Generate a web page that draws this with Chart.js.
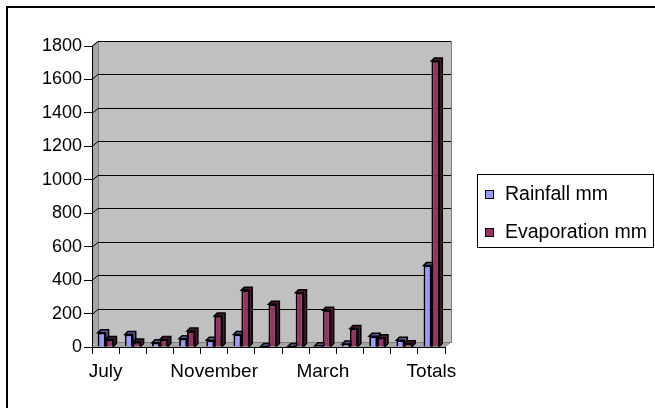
<!DOCTYPE html>
<html>
<head>
<meta charset="utf-8">
<script src="https://cdn.jsdelivr.net/npm/chart.js@4/dist/chart.umd.min.js"></script>
<style>
  html, body { margin: 0; padding: 0; background: #fff; }
  #wrap { width: 655px; height: 408px; position: relative; }
</style>
</head>
<body>
<div id="wrap"><canvas id="chart" width="655" height="408"></canvas></div>
<script>
// ---- datos ----
const months = ["July", "August", "September", "October", "November", "December",
  "January", "February", "March", "April", "May", "June", "Totals"];
const rainfall = [85, 75, 25, 50, 40, 75, 3, 3, 8, 18, 65, 40, 487];
const evaporation = [45, 30, 45, 95, 185, 340, 255, 325, 220, 110, 55, 20, 1710];
const seriesNames = ["Rainfall mm", "Evaporation mm"];
const yTicks = [0, 200, 400, 600, 800, 1000, 1200, 1400, 1600, 1800];

const COLORS = {
  rain: "#9999ff", rainDark: "#5c5c99",
  evap: "#993366", evapDark: "#4d1a33",
};
const DX = 6, DY = 5;     // profundidad de las paredes
const BDX = 3, BDY = 3;   // profundidad de las barras

// ----- paredes, rejilla y marco -----
const wallsPlugin = {
  id: "walls",
  beforeDraw(chart) {
    const { ctx, chartArea: a, scales } = chart;
    const y = scales.y;
    ctx.save();
    // marco exterior
    ctx.strokeStyle = "#000";
    ctx.lineWidth = 2;
    ctx.strokeRect(7, 7, 700, 500);
    // pared lateral
    ctx.fillStyle = "#a6a6a6";
    ctx.beginPath();
    ctx.moveTo(a.left, a.bottom);
    ctx.lineTo(a.left, a.top);
    ctx.lineTo(a.left + DX, a.top - DY);
    ctx.lineTo(a.left + DX, a.bottom - DY);
    ctx.closePath();
    ctx.fill();
    // suelo
    ctx.beginPath();
    ctx.moveTo(a.left, a.bottom);
    ctx.lineTo(a.right, a.bottom);
    ctx.lineTo(a.right + DX, a.bottom - DY);
    ctx.lineTo(a.left + DX, a.bottom - DY);
    ctx.closePath();
    ctx.fill();
    // pared del fondo
    ctx.fillStyle = "#c0c0c0";
    ctx.fillRect(a.left + DX, a.top - DY, a.right - a.left, a.bottom - a.top);
    ctx.strokeStyle = "#808080";
    ctx.lineWidth = 1;
    ctx.strokeRect(a.left + DX + 0.5, a.top - DY + 0.5, a.right - a.left, a.bottom - a.top);
    ctx.beginPath();
    ctx.moveTo(a.left, a.top);
    ctx.lineTo(a.left + DX, a.top - DY);
    ctx.moveTo(a.right, a.bottom);
    ctx.lineTo(a.right + DX, a.bottom - DY);
    ctx.stroke();
    // rejilla
    ctx.strokeStyle = "#000";
    yTicks.forEach((v) => {
      if (v === 0) return;
      const py = Math.round(y.getPixelForValue(v)) + 0.5;
      ctx.beginPath();
      ctx.moveTo(a.left, py);
      ctx.lineTo(a.left + DX, py - DY);
      ctx.lineTo(a.right + DX, py - DY);
      ctx.stroke();
    });
    ctx.restore();
  },
  beforeDatasetsDraw(chart) {
    const ctx = chart.ctx;
    ctx.save();
    ctx.lineWidth = 1.5;
    ctx.strokeStyle = "#000";
    chart.data.datasets.forEach((ds, di) => {
      const meta = chart.getDatasetMeta(di);
      meta.data.forEach((bar) => {
        const { x, y, base, width } = bar.getProps(["x", "y", "base", "width"], true);
        const l = x - width / 2, r = x + width / 2;
        ctx.fillStyle = ds.sideColor;
        ctx.beginPath();
        ctx.moveTo(l, y);
        ctx.lineTo(l + BDX, y - BDY);
        ctx.lineTo(r + BDX, y - BDY);
        ctx.lineTo(r + BDX, base - BDY);
        ctx.lineTo(r, base);
        ctx.lineTo(r, y);
        ctx.closePath();
        ctx.fill();
        ctx.stroke();
      });
    });
    ctx.restore();
  },
  afterDraw(chart) {
    // leyenda
    const ctx = chart.ctx;
    ctx.save();
    ctx.fillStyle = "#fff";
    ctx.fillRect(477.5, 174.5, 176, 73);
    ctx.strokeStyle = "#000";
    ctx.lineWidth = 1;
    ctx.strokeRect(477.5, 174.5, 176, 73);
    ctx.font = "19.5px 'Liberation Sans', Arial, sans-serif";
    ctx.textBaseline = "alphabetic";
    chart.data.datasets.forEach((ds, i) => {
      const cy = 195 + i * 38;
      ctx.fillStyle = ds.backgroundColor;
      ctx.fillRect(485.5, cy - 4.5, 8, 8);
      ctx.strokeRect(485.5, cy - 4.5, 8, 8);
      ctx.fillStyle = "#000";
      ctx.fillText(ds.label, 505, cy + 5);
    });
    ctx.restore();
  },
};

new Chart(document.getElementById("chart").getContext("2d"), {
  type: "bar",
  data: {
    labels: months,
    datasets: [
      { label: seriesNames[0], data: rainfall, backgroundColor: COLORS.rain, sideColor: COLORS.rainDark,
        borderColor: "#000", borderWidth: 1.8 },
      { label: seriesNames[1], data: evaporation, backgroundColor: COLORS.evap, sideColor: COLORS.evapDark,
        borderColor: "#000", borderWidth: 1.8 },
    ],
  },
  options: {
    animation: false,
    responsive: false,
    layout: { padding: { left: 0, top: 46, right: 210, bottom: 0 } },
    datasets: { bar: { categoryPercentage: 0.58, barPercentage: 1.0 } },
    plugins: { legend: { display: false }, tooltip: { enabled: false } },
    scales: {
      x: {
        afterFit: (s) => { s.height = 61; },
        grid: { drawOnChartArea: false, drawTicks: true, tickLength: 7, color: "#000" },
        border: { display: true, color: "#000" },
        ticks: {
          autoSkip: false, maxRotation: 0, padding: 6, color: "#000",
          font: { family: "'Liberation Sans', Arial, sans-serif", size: 19 },
          callback: (v, i) => (i % 4 === 0 ? months[i] : ""),
        },
      },
      y: {
        min: 0, max: 1800,
        afterFit: (s) => { s.width = 92; },
        afterBuildTicks: (s) => { s.ticks = yTicks.map((v) => ({ value: v })); },
        grid: { drawOnChartArea: false, drawTicks: true, tickLength: 8, color: "#000" },
        border: { display: true, color: "#000" },
        ticks: {
          padding: 2, color: "#000",
          font: { family: "'Liberation Sans', Arial, sans-serif", size: 18 },
          callback: (v) => String(v),
        },
      },
    },
  },
  plugins: [wallsPlugin],
});
</script>
</body>
</html>
